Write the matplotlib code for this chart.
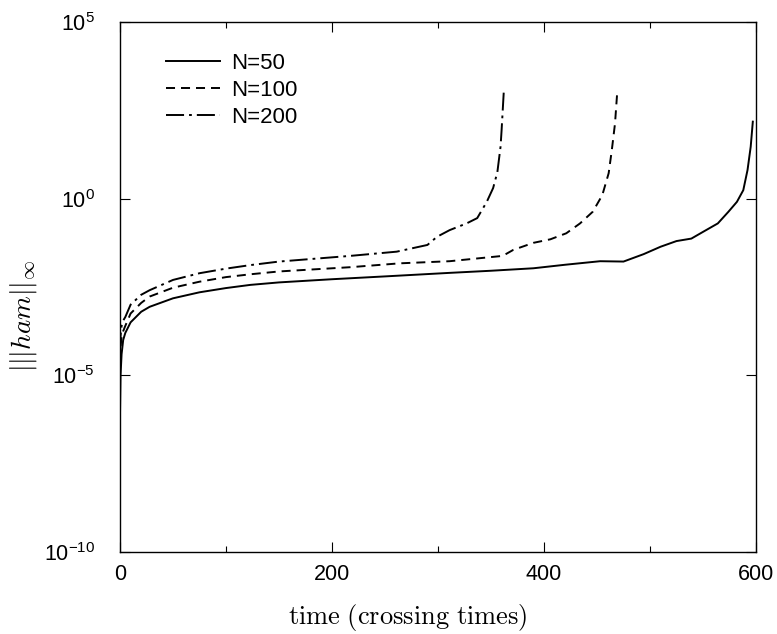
import numpy as np
import matplotlib
matplotlib.use('agg')
import matplotlib.pyplot as plt
from matplotlib.ticker import FixedLocator

plt.rcParams['font.family'] = ['Liberation Sans', 'DejaVu Sans']
plt.rcParams['mathtext.fontset'] = 'cm'
plt.rcParams['lines.scale_dashes'] = False

# time (crossing times) and log10 of the norm
t_50 = [0, 0.5, 1.5, 3, 5, 10, 20, 28, 50, 75, 100, 123, 150, 200, 250, 311, 350,
        390, 420, 453, 475, 494, 510, 525, 539, 550, 564, 574, 582, 588, 592, 595, 597]
log_50 = [-6.1, -5.0, -4.4, -4.0, -3.8, -3.5, -3.2, -3.06, -2.82, -2.65, -2.53, -2.44,
          -2.37, -2.28, -2.2, -2.1, -2.04, -1.97, -1.87, -1.77, -1.78, -1.57, -1.36,
          -1.20, -1.13, -0.94, -0.70, -0.37, -0.09, 0.24, 0.81, 1.47, 2.18]

t_100 = [0, 0.5, 1.5, 3, 5, 10, 20, 28, 50, 75, 100, 123, 150, 217, 264, 311, 361,
         371, 390, 406, 421, 434, 446, 455, 461, 464, 467, 469]
log_100 = [-4.6, -4.2, -3.9, -3.75, -3.6, -3.25, -2.95, -2.77, -2.52, -2.35, -2.22,
           -2.14, -2.06, -1.94, -1.83, -1.77, -1.62, -1.45, -1.25, -1.15, -0.98, -0.70,
           -0.37, 0.10, 0.72, 1.38, 2.13, 2.98]

t_200 = [0, 0.5, 1.5, 3, 5, 10, 20, 28, 50, 75, 100, 123, 150, 217, 261, 290, 299,
         311, 327, 337, 346, 352, 356, 359, 360, 362]
log_200 = [-4.3, -3.9, -3.6, -3.45, -3.35, -3.0, -2.72, -2.59, -2.3, -2.11, -1.98,
           -1.88, -1.78, -1.62, -1.50, -1.31, -1.08, -0.89, -0.70, -0.55, -0.09, 0.3,
           0.75, 1.47, 1.94, 3.0]

y_ticks = [1e-10, 1e-5, 1e0, 1e5]
y_ticklabels = [r'$\mathregular{10^{-10}}$', r'$\mathregular{10^{-5}}$',
                r'$\mathregular{10^{0}}$', r'$\mathregular{10^{5}}$']

fig = plt.figure(figsize=(7.77, 6.34), dpi=100)
ax = fig.add_axes([120/777, 82/634, 636/777, 530/634])

ax.semilogy(t_50, 10**np.array(log_50), color='black', lw=1.4, label='N=50')
ax.semilogy(t_100, 10**np.array(log_100), color='black', lw=1.4,
            dashes=(6.5, 4.3), label='N=100')
ax.semilogy(t_200, 10**np.array(log_200), color='black', lw=1.4,
            dashes=(13, 3.6, 2, 3.6), label='N=200')

ax.set_xlim(0, 600)
ax.set_ylim(1e-10, 1e5)
ax.set_xticks([0, 200, 400, 600])
ax.xaxis.set_minor_locator(FixedLocator([100, 300, 500]))
ax.set_yticks(y_ticks)
ax.set_yticklabels(y_ticklabels)
ax.yaxis.set_minor_locator(FixedLocator([]))
ax.tick_params(which='major', direction='in', top=True, right=True, length=7,
               width=0.8, labelsize=15.5)
ax.tick_params(axis='x', which='major', pad=9)
ax.tick_params(axis='y', which='major', pad=18)
ax.tick_params(which='minor', direction='in', top=True, right=True, length=4, width=0.8)
for spine in ax.spines.values():
    spine.set_linewidth(1.0)

ax.set_xlabel(r'$\mathrm{time\ (crossing\ times)}$', fontsize=19)
ax.xaxis.set_label_coords(0.453, -0.094)
ax.set_ylabel(r'$|||ham||_{\infty}$', fontsize=19.5)
ax.yaxis.set_label_coords(-0.128, 0.445)

ax.legend(loc='upper left', frameon=False, fontsize=16, handlelength=2.45,
          handletextpad=0.5, labelspacing=0.27, borderpad=0, borderaxespad=0,
          bbox_to_anchor=(0.072, 0.941))

plt.savefig('out.png', dpi=100)
